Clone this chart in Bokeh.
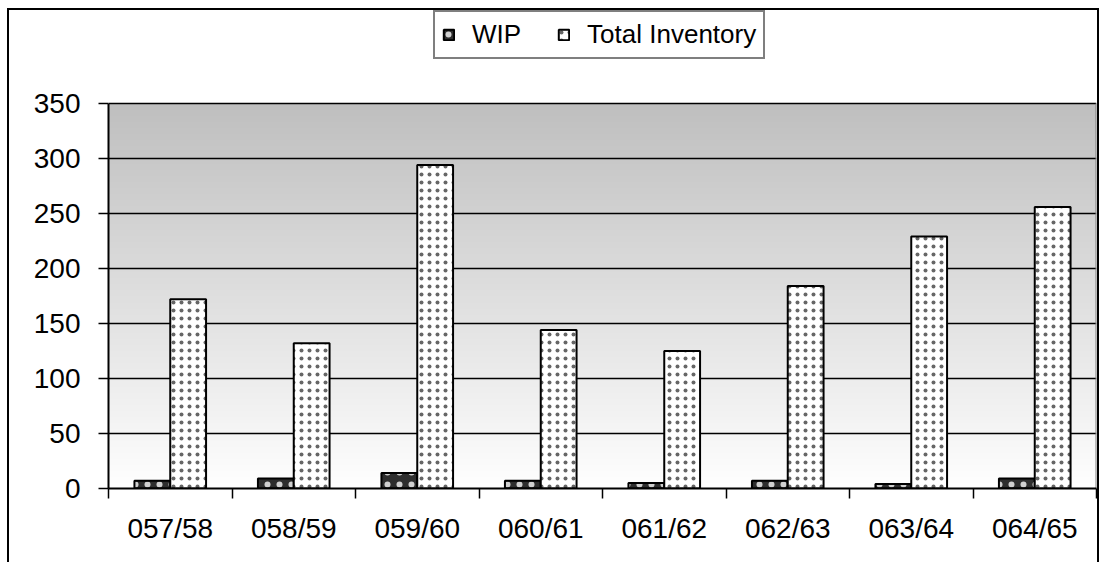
import numpy as np
from bokeh.plotting import figure
from bokeh.models import Range1d, FixedTicker, Legend, LegendItem, ColumnDataSource
from bokeh.transform import dodge
from bokeh.embed import file_html
from bokeh.resources import INLINE

# ---- data ----
categories = ["057/58", "058/59", "059/60", "060/61", "061/62", "062/63", "063/64", "064/65"]
wip = [7, 9, 14, 7, 5, 7, 4, 9]
total_inventory = [172, 132, 294, 144, 125, 184, 229, 256]
y_ticks = [0, 50, 100, 150, 200, 250, 300, 350]
series_names = ["WIP", "Total Inventory"]

n_cat = len(categories)
x_center = [i + 0.5 for i in range(n_cat)]
src = ColumnDataSource(dict(x=x_center, wip=wip, total=total_inventory))

FONT = "Liberation Sans"

# layout (canvas pixels)
W, H = 1092, 554
frame_left, frame_right, frame_bottom = 99, 1087, 478
plot_px = 385                      # pixel height of the 0..350 region
y_max = y_ticks[-1]
y_top = y_max * frame_bottom / plot_px   # frame extends to canvas top (room for legend)

p = figure(width=W, height=H, title=None,
           x_range=Range1d(0, n_cat), y_range=Range1d(0, y_top),
           output_backend="svg", toolbar_location=None,
           min_border_left=frame_left, min_border_right=W - frame_right,
           min_border_top=0, min_border_bottom=H - frame_bottom)
p.background_fill_color = "white"
p.border_fill_color = "white"
p.outline_line_color = None
p.styles = {"margin-left": "7px", "margin-top": "8px",
            "border-left": "2px solid black", "border-top": "2px solid black",
            "border-right": "2px solid black"}

# gradient background of plot area (grey at top -> white at bottom)
n = 256
g = np.linspace(255, 191, n).astype(np.uint8)
img = np.empty((n, 1), dtype=np.uint32)
view = img.view(dtype=np.uint8).reshape((n, 1, 4))
view[:, 0, 0] = g
view[:, 0, 1] = g
view[:, 0, 2] = g
view[:, 0, 3] = 255
p.image_rgba(image=[img], x=0, y=0, dw=n_cat, dh=y_max, level="image")

# right edge of plot area
p.segment(x0=[n_cat], y0=[0], x1=[n_cat], y1=[y_max], line_color="#808080", line_width=2)

bw = 0.29
r1 = p.vbar(x=dodge("x", -bw / 2), top="wip", width=bw, source=src,
            fill_color="#2e2e2e", line_color="black", line_width=2,
            hatch_pattern="dot", hatch_color="#d0d0d0", hatch_scale=12, hatch_weight=1)
r2 = p.vbar(x=dodge("x", bw / 2), top="total", width=bw, source=src,
            fill_color="white", line_color="black", line_width=2,
            hatch_pattern="dot", hatch_color="#666666", hatch_scale=8, hatch_weight=1)

# x axis: labels at centres, tick marks at category boundaries
p.xaxis.ticker = FixedTicker(ticks=x_center, minor_ticks=list(range(n_cat + 1)))
p.xaxis.major_label_overrides = {x: c for x, c in zip(x_center, categories)}
p.xaxis.major_tick_out = 0
p.xaxis.major_tick_in = 0
p.xaxis.minor_tick_out = 10
p.xaxis.minor_tick_in = 0
p.xaxis.minor_tick_line_color = "black"
p.xaxis.minor_tick_line_width = 1.5
p.xaxis.axis_line_color = "black"
p.xaxis.axis_line_width = 2
p.xaxis.major_label_text_font = FONT
p.xaxis.major_label_text_font_size = "28px"
p.xaxis.major_label_text_color = "black"
p.xaxis.major_label_standoff = 14

# y axis
p.yaxis.ticker = FixedTicker(ticks=y_ticks, minor_ticks=[])
p.yaxis.bounds = (0, y_max)
p.yaxis.major_tick_out = 10
p.yaxis.major_tick_in = 0
p.yaxis.major_tick_line_color = "black"
p.yaxis.major_tick_line_width = 1.5
p.yaxis.axis_line_color = "black"
p.yaxis.axis_line_width = 2
p.yaxis.major_label_text_font = FONT
p.yaxis.major_label_text_font_size = "28px"
p.yaxis.major_label_text_color = "black"
p.yaxis.major_label_standoff = 18

p.xgrid.visible = False
p.ygrid.ticker = FixedTicker(ticks=y_ticks)
p.ygrid.grid_line_color = "black"
p.ygrid.grid_line_width = 1.5

legend = Legend(items=[LegendItem(label=series_names[0], renderers=[r1]),
                       LegendItem(label=series_names[1], renderers=[r2])],
                orientation="horizontal", location=(325, frame_bottom - 49),
                label_text_font=FONT, label_text_font_size="26px",
                label_text_color="black",
                glyph_width=13, glyph_height=13, label_standoff=17, spacing=36,
                padding=7, margin=0,
                border_line_color="black", border_line_width=2,
                background_fill_color="white", background_fill_alpha=1)
p.add_layout(legend)

open("out.html", "w").write(file_html(p, INLINE))
